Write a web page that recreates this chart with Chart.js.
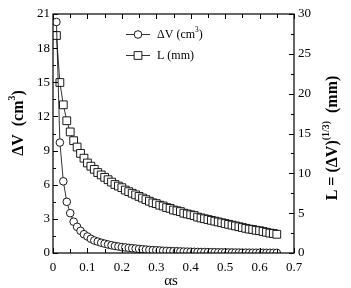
<!DOCTYPE html>
<html>
<head>
<meta charset="utf-8">
<script src="https://cdn.jsdelivr.net/npm/chart.js@4.4.1/dist/chart.umd.min.js"></script>
<style>
  html, body { margin: 0; padding: 0; background: #fff; }
  #wrap { width: 351px; height: 288px; }
</style>
</head>
<body>
<div id="wrap"><canvas id="chart" width="351" height="288"></canvas></div>
<script>
// alpha_s values (x axis)
const alphaS = [
  0.01, 0.02, 0.03, 0.04, 0.05, 0.06, 0.07, 0.08, 0.09, 0.10,
  0.11, 0.12, 0.13, 0.14, 0.15, 0.16, 0.17, 0.18, 0.19, 0.20,
  0.21, 0.22, 0.23, 0.24, 0.25, 0.26, 0.27, 0.28, 0.29, 0.30,
  0.31, 0.32, 0.33, 0.34, 0.35, 0.36, 0.37, 0.38, 0.39, 0.40,
  0.41, 0.42, 0.43, 0.44, 0.45, 0.46, 0.47, 0.48, 0.49, 0.50,
  0.51, 0.52, 0.53, 0.54, 0.55, 0.56, 0.57, 0.58, 0.59, 0.60,
  0.61, 0.62, 0.63, 0.64, 0.65
];
// delta V (cm3), left axis
const deltaV = [
  20.3, 9.7, 6.3, 4.5, 3.5, 2.75, 2.3, 1.95, 1.65, 1.45,
  1.25, 1.1, 1.0, 0.9, 0.82, 0.75, 0.68, 0.62, 0.57, 0.52,
  0.49, 0.45, 0.42, 0.39, 0.36, 0.33, 0.30, 0.27, 0.25, 0.24,
  0.22, 0.20, 0.185, 0.175, 0.16, 0.15, 0.14, 0.125, 0.118, 0.11,
  0.104, 0.091, 0.085, 0.08, 0.074, 0.069, 0.064, 0.059, 0.055, 0.051,
  0.047, 0.043, 0.039, 0.036, 0.033, 0.03, 0.027, 0.025, 0.023, 0.022,
  0.02, 0.018, 0.016, 0.015, 0.013
];
// L (mm), right axis
const lengthL = [
  27.3, 21.4, 18.6, 16.6, 15.2, 14.1, 13.3, 12.5, 11.9, 11.3,
  10.9, 10.5, 10.1, 9.8, 9.5, 9.2, 8.9, 8.6, 8.4, 8.2,
  7.9, 7.7, 7.5, 7.3, 7.1, 6.9, 6.7, 6.5, 6.3, 6.2,
  6.0, 5.9, 5.7, 5.6, 5.4, 5.3, 5.2, 5.0, 4.9, 4.8,
  4.7, 4.5, 4.4, 4.3, 4.2, 4.1, 4.0, 3.9, 3.8, 3.7,
  3.6, 3.5, 3.4, 3.3, 3.2, 3.1, 3.0, 2.95, 2.85, 2.8,
  2.7, 2.6, 2.5, 2.45, 2.35
];

const serif = '"Liberation Serif", "DejaVu Serif", serif';

function drawRich(ctx, parts, x, y, size, bold) {
  // parts: [text, isSuperscript]
  const w = (p) => {
    ctx.font = (bold ? 'bold ' : '') + (p[1] ? size * 0.62 : size) + 'px ' + serif;
    return ctx.measureText(p[0]).width;
  };
  let total = 0;
  parts.forEach(p => { total += w(p); });
  let cx = x - total / 2;
  parts.forEach(p => {
    const pw = w(p);
    ctx.fillText(p[0], cx, p[1] ? y - size * 0.4 : y);
    cx += pw;
  });
}

const framePlugin = {
  id: 'frame',
  afterDraw(chart) {
    const ctx = chart.ctx;
    const a = chart.chartArea;
    const sx = chart.scales.x, sy = chart.scales.y, sy2 = chart.scales.y2;
    ctx.save();
    ctx.strokeStyle = '#000';
    ctx.fillStyle = '#000';
    ctx.lineWidth = 1.2;
    ctx.strokeRect(a.left, a.top, a.right - a.left, a.bottom - a.top);

    ctx.lineWidth = 1;
    ctx.beginPath();
    // x ticks, bottom and top
    for (let i = 0; i <= 14; i++) {
      const px = Math.round(sx.getPixelForValue(i * 0.05)) + 0.5;
      const len = i % 2 === 0 ? 5 : 4;
      ctx.moveTo(px, a.bottom); ctx.lineTo(px, a.bottom - len);
      ctx.moveTo(px, a.top); ctx.lineTo(px, a.top + len);
    }
    // left ticks
    for (let i = 0; i <= 14; i++) {
      const py = Math.round(sy.getPixelForValue(i * 1.5)) + 0.5;
      const len = i % 2 === 0 ? 5 : 3;
      ctx.moveTo(a.left, py); ctx.lineTo(a.left + len, py);
    }
    // right ticks
    for (let i = 0; i <= 12; i++) {
      const py = Math.round(sy2.getPixelForValue(i * 2.5)) + 0.5;
      const len = i % 2 === 0 ? 5 : 3;
      ctx.moveTo(a.right, py); ctx.lineTo(a.right - len, py);
    }
    ctx.stroke();

    // axis titles
    ctx.textBaseline = 'middle';
    ctx.textAlign = 'left';
    ctx.save();
    ctx.translate(19, 123);
    ctx.rotate(-Math.PI / 2);
    drawRich(ctx, [['\u0394V  (cm', false], ['3', true], [')', false]], 0, 0, 16, true);
    ctx.restore();

    ctx.save();
    ctx.translate(333, 138);
    ctx.rotate(-Math.PI / 2);
    drawRich(ctx, [['L = (\u0394V)', false], ['(1/3)', true], ['  (mm)', false]], 0, 0, 16, true);
    ctx.restore();

    ctx.font = '15px ' + serif;
    ctx.textAlign = 'center';
    ctx.fillText('\u03b1s', 171, 281);

    // legend
    const items = [
      { y: 34, ds: chart.data.datasets[0], parts: [['\u0394V (cm', false], ['3', true], [')', false]] },
      { y: 55, ds: chart.data.datasets[1], parts: [['L (mm)', false]] }
    ];
    items.forEach(it => {
      ctx.lineWidth = 0.8;
      ctx.beginPath();
      ctx.moveTo(126, it.y + 0.5); ctx.lineTo(150, it.y + 0.5);
      ctx.stroke();
      ctx.fillStyle = '#fff';
      ctx.lineWidth = 0.9;
      Chart.helpers.drawPoint(ctx, {
        pointStyle: it.ds.pointStyle, radius: it.ds.pointRadius,
        borderWidth: 0.9, rotation: 0
      }, 138, it.y + 0.5);
      ctx.fillStyle = '#000';
      ctx.textAlign = 'left';
      let w = 0;
      it.parts.forEach(p => {
        ctx.font = (p[1] ? 7.5 : 12) + 'px ' + serif;
        w += ctx.measureText(p[0]).width;
      });
      drawRich(ctx, it.parts, 157 + w / 2, it.y + 1, 12, false);
    });
    ctx.restore();
  }
};

new Chart(document.getElementById('chart').getContext('2d'), {
  type: 'line',
  data: {
    datasets: [
      {
        label: '\u0394V (cm3)',
        data: alphaS.map((x, i) => ({ x: x, y: deltaV[i] })),
        yAxisID: 'y',
        borderColor: '#000',
        borderWidth: 0.8,
        pointStyle: 'circle',
        pointRadius: 3.8,
        pointBorderWidth: 0.9,
        pointBackgroundColor: '#fff',
        pointBorderColor: '#000',
        tension: 0
      },
      {
        label: 'L (mm)',
        data: alphaS.map((x, i) => ({ x: x, y: lengthL[i] })),
        yAxisID: 'y2',
        borderColor: '#000',
        borderWidth: 0.8,
        pointStyle: 'rect',
        pointRadius: 5.5,
        pointBorderWidth: 0.9,
        pointBackgroundColor: '#fff',
        pointBorderColor: '#000',
        tension: 0
      }
    ]
  },
  options: {
    responsive: false,
    devicePixelRatio: 1,
    animation: false,
    events: [],
    layout: { padding: { top: 14, left: 0, right: 0, bottom: 0 } },
    plugins: { legend: { display: false }, tooltip: { enabled: false } },
    scales: {
      x: {
        type: 'linear', min: 0, max: 0.7,
        grid: { display: false, drawTicks: false },
        border: { display: false },
        ticks: { stepSize: 0.1, padding: 7, color: '#000', font: { family: serif, size: 13 } },
        afterFit(s) { s.height = 35; }
      },
      y: {
        position: 'left', min: 0, max: 21,
        grid: { display: false, drawTicks: false },
        border: { display: false },
        ticks: { stepSize: 3, padding: 3, color: '#000', font: { family: serif, size: 13 } },
        afterFit(s) { s.width = 53; }
      },
      y2: {
        position: 'right', min: 0, max: 30,
        grid: { display: false, drawTicks: false },
        border: { display: false },
        ticks: { stepSize: 5, padding: 4, color: '#000', font: { family: serif, size: 13 } },
        afterFit(s) { s.width = 57; }
      }
    }
  },
  plugins: [framePlugin]
});
</script>
</body>
</html>
